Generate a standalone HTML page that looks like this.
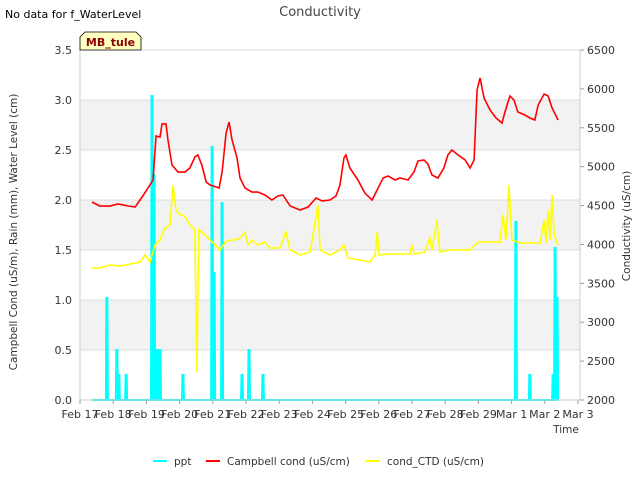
<!DOCTYPE html>
<html><head><meta charset="utf-8"><style>
body{margin:0;background:#fff;font-family:"Liberation Sans","DejaVu Sans",sans-serif}
svg text{font-family:"DejaVu Sans","Liberation Sans",sans-serif}
</style></head><body>
<svg id="chart" width="640" height="480" xmlns="http://www.w3.org/2000/svg">
<rect width="640" height="480" fill="#fff"/>
<text x="5" y="18" font-size="11" fill="#000">No data for f_WaterLevel</text>
<text x="320" y="16" font-size="13" fill="#444" text-anchor="middle">Conductivity</text>
<g id="bands"></g>
<g id="grid"></g>
<g id="series"></g>
<g id="axes"></g>
<g>
<path d="M80,50 L80,37 L85,32 L136,32 L141,37 L141,50 Z" fill="#ffffc0" stroke="#000" stroke-width="0.8"/>
<text x="110.5" y="46" font-size="11" font-weight="bold" fill="#8b0000" text-anchor="middle">MB_tule</text>
</g>
<text transform="translate(17,232) rotate(-90)" font-size="10.5" fill="#333" text-anchor="middle">Campbell Cond (uS/m), Rain (mm), Water Level (cm)</text>
<text transform="translate(630,226) rotate(-90)" font-size="10.5" fill="#333" text-anchor="middle">Conductivity (uS/cm)</text>
<text x="566" y="433" font-size="10.5" fill="#333" text-anchor="middle">Time</text>
<g>
<g><line x1="153" y1="461" x2="167" y2="461" stroke="#00ffff" stroke-width="2"/><text x="174" y="465" font-size="10.5" fill="#333">ppt</text></g>
<g><line x1="206" y1="461" x2="220" y2="461" stroke="#ff0000" stroke-width="2"/><text x="227" y="465" font-size="10.5" fill="#333">Campbell cond (uS/cm)</text></g>
<g><line x1="366" y1="461" x2="380" y2="461" stroke="#ffff00" stroke-width="2"/><text x="387" y="465" font-size="10.5" fill="#333">cond_CTD (uS/cm)</text></g>
</g>
</svg>
<script>
const xTickLabels=["Feb 17","Feb 18","Feb 19","Feb 20","Feb 21","Feb 22","Feb 23","Feb 24","Feb 25","Feb 26","Feb 27","Feb 28","Feb 29","Mar 1","Mar 2","Mar 3"];
const leftTicks=[0,0.5,1,1.5,2,2.5,3,3.5];
const rightTicks=[2000,2500,3000,3500,4000,4500,5000,5500,6000,6500];
const campDays=[0.36,0.60,0.90,1.14,1.45,1.66,1.87,2.05,2.20,2.29,2.41,2.47,2.59,2.65,2.77,2.95,3.16,3.31,3.46,3.55,3.67,3.80,3.92,4.10,4.19,4.28,4.40,4.49,4.58,4.73,4.82,4.97,5.18,5.36,5.57,5.78,5.96,6.11,6.33,6.63,6.87,7.11,7.29,7.53,7.71,7.83,7.95,8.01,8.13,8.37,8.58,8.80,8.98,9.13,9.28,9.49,9.64,9.88,10.06,10.18,10.36,10.48,10.60,10.78,10.96,11.08,11.20,11.39,11.60,11.75,11.87,11.96,12.05,12.17,12.35,12.53,12.71,12.80,12.95,13.07,13.19,13.40,13.55,13.70,13.80,13.98,14.10,14.22,14.40];
const campVals=[4546,4494,4494,4520,4494,4481,4610,4726,4829,5394,5381,5549,5549,5343,5021,4931,4931,4983,5124,5150,5021,4803,4764,4739,4726,4931,5433,5574,5343,5111,4854,4726,4674,4674,4636,4571,4623,4636,4494,4443,4481,4597,4559,4571,4623,4764,5111,5150,4983,4829,4661,4571,4726,4854,4880,4829,4854,4829,4931,5073,5086,5034,4893,4854,4983,5150,5214,5150,5086,4983,5086,5986,6140,5883,5729,5626,5561,5703,5909,5857,5703,5664,5626,5600,5793,5934,5909,5754,5600];
const ctdDays=[0.36,0.60,0.90,1.20,1.51,1.81,1.96,2.11,2.26,2.41,2.56,2.71,2.80,2.89,3.01,3.10,3.19,3.31,3.46,3.52,3.58,3.76,3.92,4.07,4.22,4.37,4.52,4.67,4.82,4.97,5.06,5.18,5.36,5.57,5.72,6.02,6.20,6.33,6.63,6.93,7.17,7.23,7.53,7.83,7.95,8.07,8.43,8.73,8.89,8.95,9.01,9.34,9.64,9.94,10.00,10.06,10.39,10.54,10.60,10.75,10.84,11.14,11.45,11.75,11.99,12.35,12.65,12.74,12.83,12.92,13.01,13.25,13.55,13.86,13.98,14.04,14.10,14.16,14.22,14.28,14.34,14.40];
const ctdVals=[1.32,1.32,1.35,1.34,1.36,1.38,1.45,1.38,1.55,1.60,1.72,1.75,2.15,1.90,1.85,1.85,1.82,1.75,1.70,0.28,1.70,1.65,1.60,1.55,1.50,1.58,1.60,1.60,1.62,1.68,1.55,1.60,1.55,1.58,1.52,1.52,1.68,1.50,1.45,1.48,1.95,1.50,1.45,1.50,1.55,1.42,1.40,1.38,1.45,1.68,1.45,1.46,1.46,1.46,1.55,1.46,1.48,1.62,1.50,1.80,1.48,1.50,1.50,1.50,1.58,1.58,1.58,1.85,1.60,2.15,1.60,1.57,1.57,1.57,1.80,1.57,1.90,1.60,2.05,1.65,1.60,1.55];
const pptDays=[0.81,1.11,1.17,1.39,2.17,2.23,2.32,2.41,3.10,3.98,4.04,4.28,4.88,5.09,5.51,13.13,13.55,14.25,14.31,14.37];
const pptVals=[1.02,0.50,0.25,0.25,3.04,2.25,0.50,0.50,0.25,2.53,1.27,1.97,0.25,0.50,0.25,1.78,0.25,0.25,1.52,1.02];

const NS="http://www.w3.org/2000/svg";
const L=80,R=580,T=50,B=400,DAY=33.2;
const xS=d=>L+d*DAY;
const yL=v=>B-v*(B-T)/3.5;
const yR=v=>B-(v-2000)*(B-T)/4500;
function mk(tag,attrs,parent){const e=document.createElementNS(NS,tag);for(const k in attrs)e.setAttribute(k,attrs[k]);parent.appendChild(e);return e;}
const bands=document.getElementById('bands'),grid=document.getElementById('grid'),series=document.getElementById('series'),axes=document.getElementById('axes');
[[0.5,1],[1.5,2],[2.5,3]].forEach(b=>{const r=mk('rect',{x:L,y:yL(b[1]),width:R-L,height:yL(b[0])-yL(b[1]),fill:'#f2f2f2'},bands);

});
leftTicks.forEach(v=>{const g=mk('line',{x1:L,x2:R,y1:yL(v),y2:yL(v),stroke:'#dcdcdc','stroke-width':1},grid);


const t=mk('text',{x:L-8,y:yL(v)+4,'font-size':11,fill:'#333','text-anchor':'end'},axes);t.textContent=v.toFixed(1);

});
rightTicks.forEach(v=>{mk('line',{x1:R,x2:R+4,y1:yR(v),y2:yR(v),stroke:'#999'},axes);
const t=mk('text',{x:R+7,y:yR(v)+4,'font-size':11,fill:'#333'},axes);t.textContent=v;

});
xTickLabels.forEach((s,i)=>{const x=xS(i);mk('line',{x1:x,x2:x,y1:B,y2:B+4,stroke:'#999'},axes);
const t=mk('text',{x:x,y:B+18,'font-size':11,fill:'#333','text-anchor':'middle'},axes);t.textContent=s;

});
mk('line',{x1:L,x2:R,y1:B,y2:B,stroke:'#ccc'},axes);
mk('line',{x1:L,x2:L,y1:T,y2:B,stroke:'#ccc'},axes);
mk('line',{x1:R,x2:R,y1:T,y2:B,stroke:'#ccc'},axes);
// ppt
let pp=`M${xS(0.36)},${B}`;
pptDays.forEach((d,i)=>{const x=xS(d);pp+=` L${x-1},${B} L${x-0.5},${yL(pptVals[i])} L${x+0.5},${yL(pptVals[i])} L${x+1},${B}`;});
pp+=` L${xS(14.4)},${B}`;
const p1=mk('path',{d:pp,fill:'none',stroke:'#00ffff','stroke-width':2},series);


const p2=mk('polyline',{points:campDays.map((d,i)=>xS(d)+','+yR(campVals[i])).join(' '),fill:'none',stroke:'#ff0000','stroke-width':1.6},series);


const p3=mk('polyline',{points:ctdDays.map((d,i)=>xS(d)+','+yL(ctdVals[i])).join(' '),fill:'none',stroke:'#ffff00','stroke-width':1.6},series);


</script>
</body></html>
